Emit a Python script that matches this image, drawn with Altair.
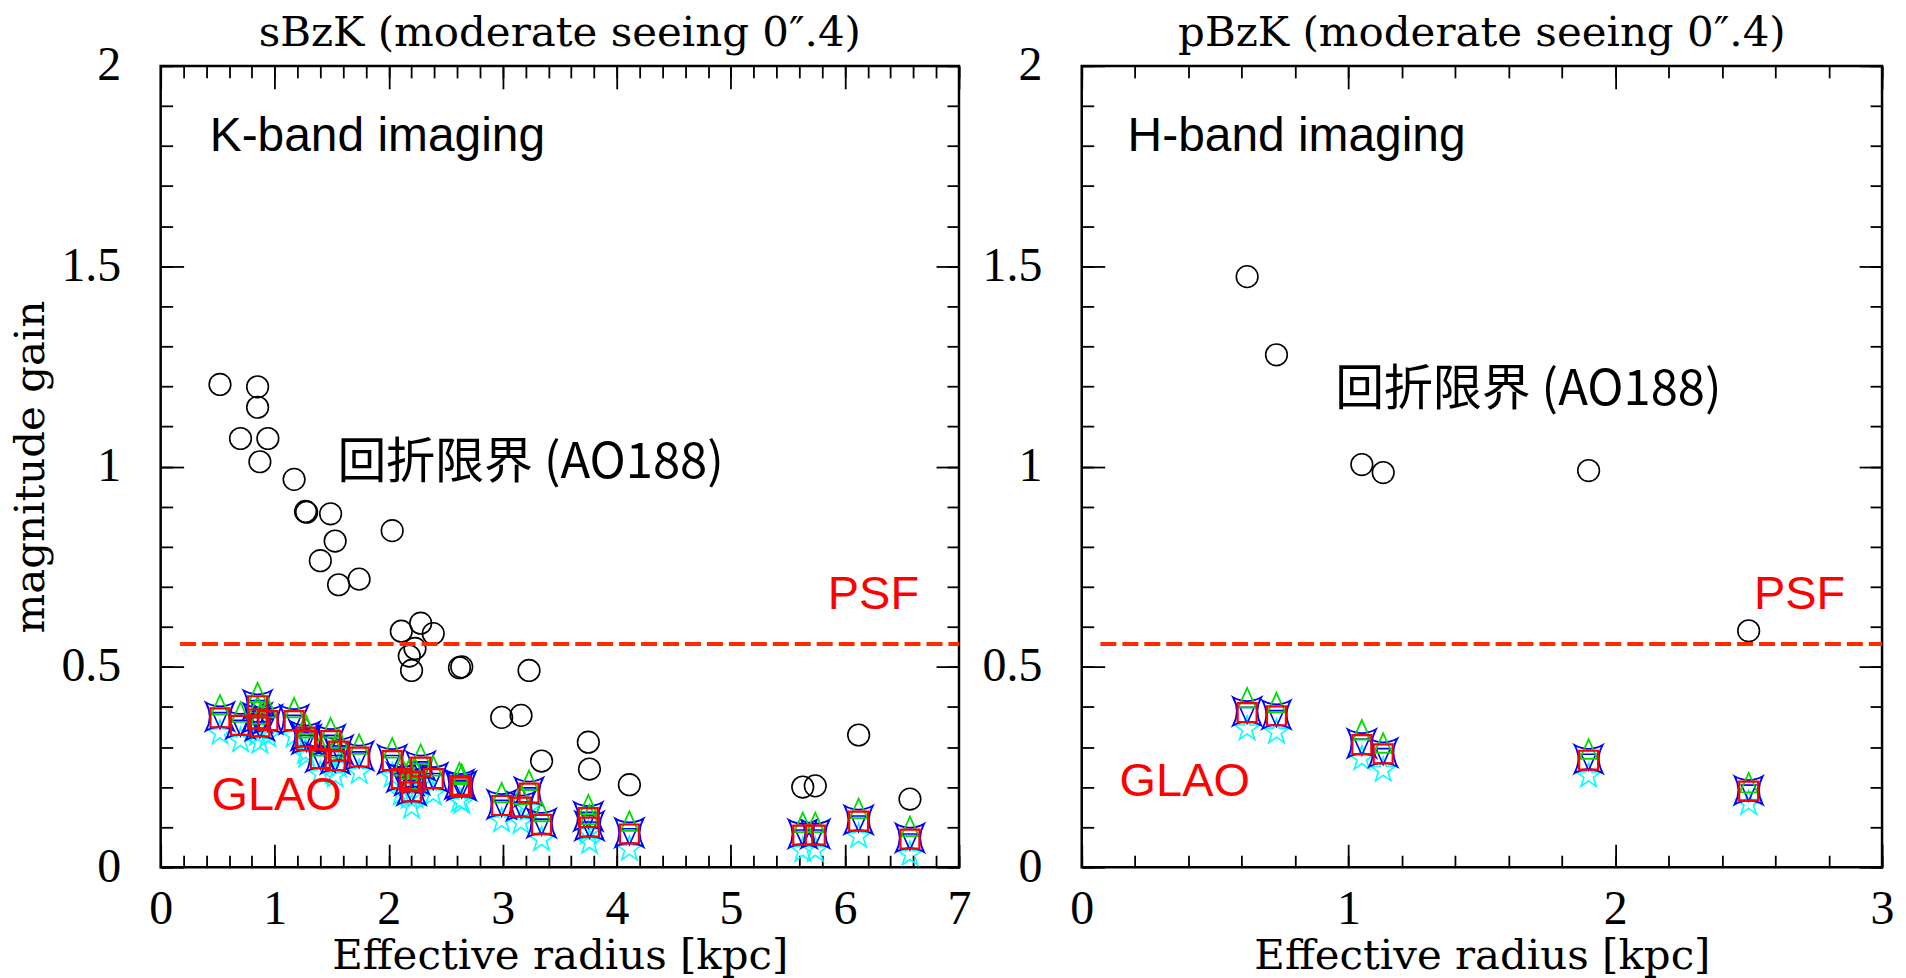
import altair as alt
import pandas as pd

# ---------------- data ----------------
# Left panel: sBzK, K-band imaging
K_RADIUS = [0.52, 0.70, 0.85, 0.85, 0.87, 0.94, 1.17, 1.27, 1.28, 1.40, 1.49, 1.53, 1.56, 1.74,
            2.03, 2.11, 2.18, 2.20, 2.23, 2.28, 2.39, 2.62, 2.64, 2.99, 3.16, 3.23, 3.34, 3.75,
            3.76, 4.11, 5.63, 5.74, 6.12, 6.57]
K_AO188 = [1.205, 1.070, 1.199, 1.148, 1.012, 1.070, 0.968, 0.888, 0.886, 0.765, 0.882, 0.814, 0.705, 0.719,
           0.840, 0.589, 0.527, 0.491, 0.546, 0.609, 0.583, 0.498, 0.500, 0.374, 0.379, 0.491, 0.265, 0.312,
           0.245, 0.206, 0.200, 0.203, 0.330, 0.170]
K_GLAO_SQUARE = [0.373, 0.354, 0.403, 0.370, 0.350, 0.366, 0.366, 0.325, 0.316, 0.271, 0.316, 0.266, 0.290, 0.275,
                 0.266, 0.221, 0.213, 0.188, 0.215, 0.250, 0.221, 0.204, 0.200, 0.154, 0.150, 0.185, 0.107, 0.124,
                 0.100, 0.083, 0.080, 0.080, 0.115, 0.070]
K_GLAO_TRIANGLE = [0.405, 0.387, 0.436, 0.402, 0.382, 0.398, 0.398, 0.357, 0.348, 0.303, 0.348, 0.298, 0.322, 0.307,
                   0.298, 0.253, 0.245, 0.220, 0.247, 0.282, 0.253, 0.236, 0.232, 0.186, 0.182, 0.217, 0.139, 0.156,
                   0.132, 0.115, 0.112, 0.112, 0.147, 0.102]
K_GLAO_STAR = [0.335, 0.316, 0.365, 0.332, 0.312, 0.328, 0.328, 0.287, 0.278, 0.233, 0.278, 0.228, 0.252, 0.237,
               0.228, 0.183, 0.175, 0.150, 0.177, 0.212, 0.183, 0.166, 0.162, 0.116, 0.112, 0.147, 0.069, 0.086,
               0.062, 0.045, 0.042, 0.042, 0.077, 0.032]
K_GLAO_ASTROID = [0.376, 0.357, 0.406, 0.373, 0.353, 0.369, 0.369, 0.328, 0.319, 0.274, 0.319, 0.269, 0.293, 0.278,
                  0.269, 0.224, 0.216, 0.191, 0.218, 0.253, 0.224, 0.207, 0.203, 0.157, 0.153, 0.188, 0.110, 0.127,
                  0.103, 0.086, 0.083, 0.083, 0.118, 0.073]
K_GLAO_DOWN = [0.366, 0.347, 0.396, 0.363, 0.343, 0.359, 0.359, 0.318, 0.309, 0.264, 0.309, 0.259, 0.283, 0.268,
               0.259, 0.214, 0.206, 0.181, 0.208, 0.243, 0.214, 0.197, 0.193, 0.147, 0.143, 0.178, 0.100, 0.117,
               0.093, 0.076, 0.073, 0.073, 0.108, 0.063]

# Right panel: pBzK, H-band imaging
H_RADIUS = [0.62, 0.73, 1.05, 1.13, 1.90, 2.50]
H_AO188 = [1.474, 1.279, 1.005, 0.985, 0.990, 0.590]
H_GLAO_SQUARE = [0.386, 0.378, 0.306, 0.283, 0.267, 0.190]
H_GLAO_TRIANGLE = [0.423, 0.411, 0.343, 0.310, 0.295, 0.211]
H_GLAO_STAR = [0.345, 0.337, 0.271, 0.242, 0.228, 0.159]
H_GLAO_ASTROID = [0.389, 0.381, 0.309, 0.286, 0.270, 0.192]
H_GLAO_DOWN = [0.379, 0.371, 0.300, 0.276, 0.262, 0.185]

PSF_LEVEL = [0.557, 0.557]          # left, right
PSF_START = [0.17, 0.07]
X_MAX = [7, 3]
PANEL_TITLES = ["sBzK (moderate seeing 0\u2033.4)", "pBzK (moderate seeing 0\u2033.4)"]
BAND_LABELS = ["K-band imaging", "H-band imaging"]
BAND_POS = [(0.43, 1.787), (0.172, 1.787)]
AO_LABEL = "回折限界 (AO188)"
AO_POS = [(1.55, 1.01), (0.95, 1.19)]
PSF_POS = [(5.85, 0.645), (2.52, 0.645)]
GLAO_POS = [(0.445, 0.142), (0.142, 0.177)]

Y_MAJOR = [0, 0.5, 1, 1.5, 2]
Y_MINOR = [round(i * 0.1, 1) for i in range(21)]
X_MAJOR = [[0, 1, 2, 3, 4, 5, 6, 7], [0, 1, 2, 3]]
X_MINOR = [[round(i * 0.2, 1) for i in range(36)], [round(i * 0.2, 1) for i in range(16)]]

# ---------------- styling ----------------
SERIF = "DejaVu Serif"
NUMFONT = "Liberation Serif"
SANS = "Liberation Sans"
CJK = "Noto Sans CJK JP"
MAJ, MIN, TW = 23, 12, 1.8
ASTROID = "M-1,-1Q0,-0.45,1,-1Q0.45,0,1,1Q0,0.45,-1,1Q-0.45,0,-1,-1Z"
STAR5 = ("M0,-1L0.225,-0.309L0.951,-0.309L0.363,0.118L0.588,0.809L0,0.382"
         "L-0.588,0.809L-0.363,0.118L-0.951,-0.309L-0.225,-0.309Z")
TRI_UP = "M0,-1L0.9,1L-0.9,1Z"
TRI_DOWN = "M-0.9,-1L0.9,-1L0,1Z"


def tick_axis(orient, values, size, labels=False, title=None, **kw):
    return alt.Axis(orient=orient, values=values, offset=-size, tickSize=size, tickWidth=TW,
                    tickColor="black", domain=False, grid=False, labels=labels,
                    labelFont=NUMFONT, labelFontSize=48, labelColor="black", labelFlush=False,
                    labelOverlap=False, format="~g", title=title, titleFont=SERIF,
                    titleFontSize=42, titleFontWeight="normal", titleColor="black", **kw)


def panel(i, radius, ao, sq, tri, star, ast, down, width, show_ytitle):
    xs = alt.Scale(domain=[0, X_MAX[i]], nice=False, zero=False)
    ys = alt.Scale(domain=[0, 2], nice=False, zero=False)
    df = pd.DataFrame({"r": radius, "ao": ao, "sq": sq, "tri": tri, "star": star,
                       "ast": ast, "down": down})
    base = alt.Chart(df)

    x_bot_major = tick_axis("bottom", X_MAJOR[i], MAJ, labels=True,
                            title="Effective radius [kpc]", labelPadding=18, titlePadding=3)
    y_left_major = tick_axis("left", Y_MAJOR, MAJ, labels=True,
                             title="magnitude gain" if show_ytitle else None,
                             labelPadding=40, titlePadding=8)
    circles = base.mark_point(shape="circle", filled=False, color="black", size=470,
                              strokeWidth=1.6, opacity=1).encode(
        x=alt.X("r:Q", scale=xs, axis=x_bot_major),
        y=alt.Y("ao:Q", scale=ys, axis=y_left_major))
    stars = base.mark_point(shape=STAR5, filled=False, color="#00ffff", size=680,
                            strokeWidth=1.6, opacity=1).encode(
        x=alt.X("r:Q", scale=xs, axis=tick_axis("bottom", X_MINOR[i], MIN)),
        y=alt.Y("star:Q", scale=ys, axis=tick_axis("left", Y_MINOR, MIN)))
    astroids = base.mark_point(shape=ASTROID, filled=False, color="#0000ff", size=800,
                               strokeWidth=1.8, opacity=1).encode(
        x=alt.X("r:Q", scale=xs, axis=tick_axis("top", X_MAJOR[i], MAJ)),
        y=alt.Y("ast:Q", scale=ys, axis=tick_axis("right", Y_MAJOR, MAJ)))
    downs = base.mark_point(shape=TRI_DOWN, filled=False, color="#0000ff", size=256,
                            strokeWidth=1.6, opacity=1).encode(
        x=alt.X("r:Q", scale=xs, axis=tick_axis("top", X_MINOR[i], MIN)),
        y=alt.Y("down:Q", scale=ys, axis=tick_axis("right", Y_MINOR, MIN)))
    tris = base.mark_point(shape=TRI_UP, filled=False, color="#00dd00", size=380,
                           strokeWidth=1.8, opacity=1).encode(
        x=alt.X("r:Q", scale=xs, axis=None),
        y=alt.Y("tri:Q", scale=ys, axis=None))
    squares = base.mark_point(shape="square", filled=False, color="#ff0000", size=361,
                              strokeWidth=2.2, opacity=1).encode(
        x=alt.X("r:Q", scale=xs, axis=None),
        y=alt.Y("sq:Q", scale=ys, axis=None))

    psf_df = pd.DataFrame({"x": [PSF_START[i]], "x2": [X_MAX[i]], "y": [PSF_LEVEL[i]]})
    psf = alt.Chart(psf_df).mark_rule(color="#ff2a00", strokeWidth=4, strokeDash=[16, 6]).encode(
        x=alt.X("x:Q", scale=xs, axis=None), x2="x2:Q",
        y=alt.Y("y:Q", scale=ys, axis=None))

    def label(txt, pos, font, size, color, baseline="alphabetic"):
        d = pd.DataFrame({"x": [pos[0]], "y": [pos[1]], "t": [txt]})
        return alt.Chart(d).mark_text(font=font, fontSize=size, color=color, align="left",
                                      baseline=baseline).encode(
            x=alt.X("x:Q", scale=xs, axis=None), y=alt.Y("y:Q", scale=ys, axis=None),
            text="t:N")

    texts = [
        label(BAND_LABELS[i], BAND_POS[i], SANS, 48, "black"),
        label(AO_LABEL, AO_POS[i], CJK, 49, "black", baseline="middle"),
        label("PSF", PSF_POS[i], SANS, 47, "#ff0000"),
        label("GLAO", GLAO_POS[i], SANS, 47, "#ff0000"),
    ]

    return alt.layer(circles, stars, astroids, downs, tris, squares, psf, *texts).resolve_axis(
        x="independent", y="independent").properties(
        width=width, height=803,
        title=alt.TitleParams(PANEL_TITLES[i], font=SERIF, fontSize=42, fontWeight="normal",
                              color="black", anchor="middle", frame="group",
                              baseline="alphabetic", offset=-46))


left = panel(0, K_RADIUS, K_AO188, K_GLAO_SQUARE, K_GLAO_TRIANGLE, K_GLAO_STAR,
             K_GLAO_ASTROID, K_GLAO_DOWN, 800, True)
right = panel(1, H_RADIUS, H_AO188, H_GLAO_SQUARE, H_GLAO_TRIANGLE, H_GLAO_STAR,
              H_GLAO_ASTROID, H_GLAO_DOWN, 802, False)

chart = alt.hconcat(left, right, spacing=123, bounds="flush").properties(
    padding={"left": 8, "top": 9, "right": 10, "bottom": 0},
    background="white",
).configure_view(stroke="black", strokeWidth=2.5)

chart.save("out.html", embed_options={"renderer": "svg", "actions": False})
